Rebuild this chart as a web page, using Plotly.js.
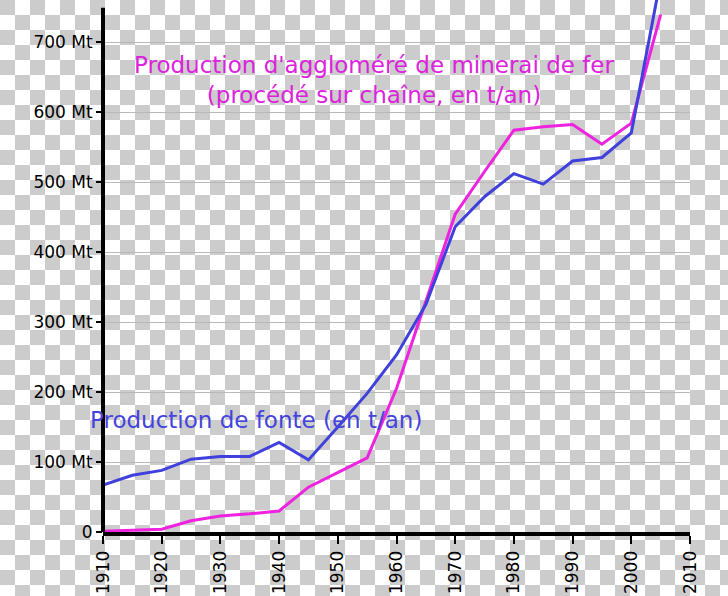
<!DOCTYPE html>
<html>
<head>
<meta charset="utf-8">
<script src="https://cdn.plot.ly/plotly-3.0.1.min.js"></script>
<style>
  html, body { margin: 0; padding: 0; }
  body {
    width: 728px; height: 596px; overflow: hidden;
    background: repeating-conic-gradient(#ffffff 0 25%, #cccccc 0 50%) 0 0 / 30px 30px;
  }
  #chart { width: 728px; height: 596px; }
</style>
</head>
<body>
<div id="chart"></div>
<script>
// Years (every 5 years)
const years = [1910, 1915, 1920, 1925, 1930, 1935, 1940, 1945, 1950, 1955, 1960, 1965, 1970, 1975, 1980, 1985, 1990, 1995, 2000, 2005];
// Production de fonte (Mt/an)
const fonte = [67, 81, 88, 104, 108, 108, 128, 103, 150, 198, 253, 325, 436, 479, 512, 497, 530, 535, 570, 790];
// Production d'aggloméré de minerai de fer (Mt/an)
const agglo = [1, 2, 4, 16, 23, 26, 30, 64, 85, 106, 205, 331, 454, 515, 574, 579, 582, 554, 584, 739];

const yTickVals = [0, 100, 200, 300, 400, 500, 600, 700];
const yTickText = ["0", "100 Mt", "200 Mt", "300 Mt", "400 Mt", "500 Mt", "600 Mt", "700 Mt"];
const xTickVals = [1910, 1920, 1930, 1940, 1950, 1960, 1970, 1980, 1990, 2000, 2010];

const labelAgglo = "Production d'aggloméré de minerai de fer<br>(procédé sur chaîne, en t/an)";
const labelFonte = "Production de fonte (en t/an)";

const blue = "#4040dd";
const magenta = "#ee22e0";

const traces = [
  { x: years, y: agglo, type: "scatter", mode: "lines",
    line: { color: magenta, width: 3 }, hoverinfo: "skip" },
  { x: years, y: fonte, type: "scatter", mode: "lines",
    line: { color: blue, width: 3 }, hoverinfo: "skip" }
];

const layout = {
  width: 728, height: 596,
  margin: { l: 103, r: 38, t: 0, b: 64, pad: 0 },
  paper_bgcolor: "rgba(0,0,0,0)",
  plot_bgcolor: "rgba(0,0,0,0)",
  showlegend: false,
  font: { family: "DejaVu Sans", size: 17, color: "#000" },
  xaxis: {
    range: [1910, 2010], tickvals: xTickVals, tickangle: -90,
    showgrid: false, zeroline: false,
    showline: true, linecolor: "#000", linewidth: 4,
    ticks: "outside", ticklen: 8, tickwidth: 2, tickcolor: "#000",
    tickfont: { family: "DejaVu Sans", size: 17, color: "#000" }
  },
  yaxis: {
    range: [0, 760], tickvals: yTickVals, ticktext: yTickText,
    showgrid: true, gridcolor: "#b8b8b8", gridwidth: 1,
    zeroline: false, showline: false,
    ticks: "outside", ticklen: 6, tickwidth: 2, tickcolor: "#000",
    tickfont: { family: "DejaVu Sans", size: 17, color: "#000" }
  },
  shapes: [
    { type: "line", xref: "paper", yref: "y", x0: 0, x1: 0, y0: 0, y1: 749,
      line: { color: "#000", width: 4 }, layer: "above" }
  ],
  annotations: [
    { x: 1956.2, y: 646, xref: "x", yref: "y", text: labelAgglo, showarrow: false,
      font: { family: "DejaVu Sans", size: 23, color: "#dd22dd" }, align: "center" },
    { x: 1936.1, y: 160, xref: "x", yref: "y", text: labelFonte, showarrow: false,
      font: { family: "DejaVu Sans", size: 23, color: "#4444dd" }, align: "center" }
  ]
};

Plotly.newPlot("chart", traces, layout, { staticPlot: true, displayModeBar: false });
</script>
</body>
</html>
